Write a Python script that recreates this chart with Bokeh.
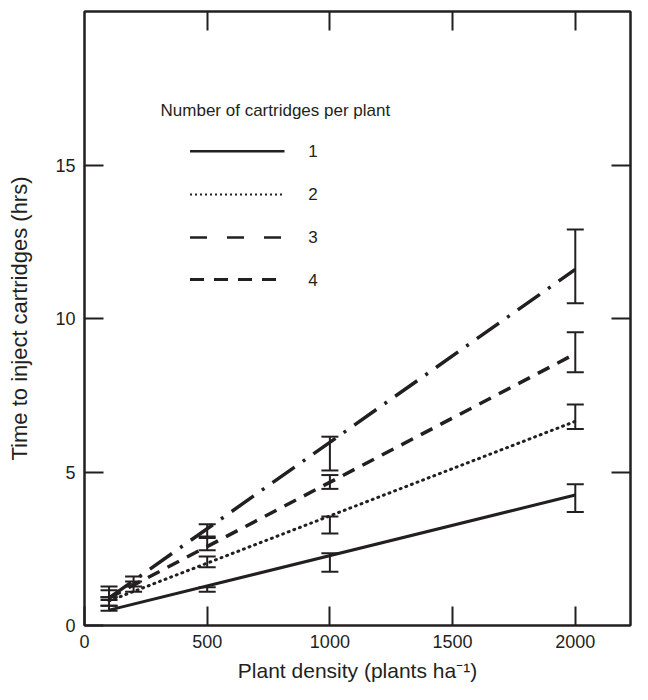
from bokeh.plotting import figure
from bokeh.models import (Range1d, LinearAxis, FixedTicker, Whisker, ColumnDataSource,
                          Label, TeeHead)
from bokeh.embed import file_html
from bokeh.resources import INLINE

# ---------------- data ----------------
# fitted lines (plant density -> hours), endpoints
density = [100, 2000]
line_1 = [0.5, 4.25]
line_2 = [0.8, 6.65]
line_3 = [0.9, 11.6]
line_4 = [0.9, 8.85]

# error bars
eb_x_1 = [100, 500, 1000, 2000]
eb_lo_1 = [0.48, 1.1, 1.75, 3.7]
eb_hi_1 = [0.64, 1.25, 2.35, 4.6]

eb_x_2 = [100, 500, 1000, 2000]
eb_lo_2 = [0.64, 1.9, 3.0, 6.4]
eb_hi_2 = [0.92, 2.25, 3.55, 7.2]

eb_x_4 = [100, 200, 500, 1000, 2000]
eb_lo_4 = [0.83, 1.1, 2.45, 4.45, 8.25]
eb_hi_4 = [1.15, 1.43, 2.9, 4.9, 9.55]

eb_x_3 = [100, 200, 500, 1000, 2000]
eb_lo_3 = [0.92, 1.27, 2.85, 5.05, 10.5]
eb_hi_3 = [1.27, 1.6, 3.3, 6.15, 12.9]

x_ticks = [0, 500, 1000, 1500, 2000]
y_ticks = [0, 5, 10, 15]
legend_title = "Number of cartridges per plant"
legend_labels = ["1", "2", "3", "4"]
x_title = "Plant density (plants ha\u207b\u00b9)"
y_title = "Time to inject cartridges (hrs)"

# ---------------- style ----------------
INK = "#231f20"
FONT = "Liberation Sans"

p = figure(width=632, height=684, x_range=Range1d(0, 2225), y_range=Range1d(0, 20),
           output_backend="svg", toolbar_location=None,
           min_border_left=84, min_border_right=2, min_border_top=11, min_border_bottom=55)
p.grid.visible = False
p.outline_line_color = INK
p.outline_line_width = 2
p.background_fill_color = "white"
p.border_fill_color = "white"


def style_axis(ax, ticks, show_labels=True):
    ax.ticker = FixedTicker(ticks=ticks)
    ax.major_tick_in = 19
    ax.major_tick_out = 0
    ax.minor_tick_line_color = None
    ax.major_tick_line_width = 2
    ax.major_tick_line_color = INK
    ax.axis_line_width = 2
    ax.axis_line_color = INK
    if show_labels:
        ax.major_label_text_font = FONT
        ax.major_label_text_font_size = "18px"
        ax.major_label_text_color = INK
        ax.major_label_standoff = 9
        ax.axis_label_text_font = FONT
        ax.axis_label_text_font_size = "21px"
        ax.axis_label_text_font_style = "normal"
        ax.axis_label_text_color = INK
    else:
        ax.major_label_text_font_size = "0px"
        ax.major_label_text_alpha = 0
        ax.major_label_standoff = 0


style_axis(p.xaxis[0], x_ticks)
style_axis(p.yaxis[0], y_ticks)
p.xaxis[0].axis_label = x_title
p.xaxis[0].axis_label_standoff = 8
p.yaxis[0].axis_label = y_title
p.yaxis[0].axis_label_text_font_size = "22px"
p.yaxis[0].axis_label_standoff = 20
top_ax = LinearAxis()
style_axis(top_ax, x_ticks[1:], show_labels=False)
p.add_layout(top_ax, "above")
right_ax = LinearAxis()
style_axis(right_ax, y_ticks[1:], show_labels=False)
p.add_layout(right_ax, "right")

# ---------------- lines ----------------
p.line(density, line_1, line_color=INK, line_width=3)
p.line(density, line_2, line_color=INK, line_width=3, line_dash="1 5", line_cap="round")
p.line(density, line_4, line_color=INK, line_width=3.5, line_dash="13 9")
p.line(density, line_3, line_color=INK, line_width=3.5, line_dash="27 10 3 10")

# ---------------- error bars ----------------
for xs, lo, hi in [(eb_x_1, eb_lo_1, eb_hi_1), (eb_x_2, eb_lo_2, eb_hi_2),
                   (eb_x_4, eb_lo_4, eb_hi_4), (eb_x_3, eb_lo_3, eb_hi_3)]:
    src = ColumnDataSource(dict(x=xs, lo=lo, hi=hi))
    w = Whisker(source=src, base="x", lower="lo", upper="hi", dimension="height",
                line_color=INK, line_width=2,
                lower_head=TeeHead(size=17, line_color=INK, line_width=2),
                upper_head=TeeHead(size=17, line_color=INK, line_width=2))
    p.add_layout(w)

# ---------------- legend (manual) ----------------
LEG_X = [430, 815]
LEG_Y = [15.45, 14.04, 12.64, 11.27]
LEG_TXT_X = 912
leg_styles = [dict(line_width=2.5),
              dict(line_width=2, line_dash="2 3"),
              dict(line_width=2.5, line_dash="17 20"),
              dict(line_width=3, line_dash="14 10")]
for yy, lab, st in zip(LEG_Y, legend_labels, leg_styles):
    p.line(LEG_X, [yy, yy], line_color=INK, **st)
    p.add_layout(Label(x=LEG_TXT_X, y=yy, text=lab, text_font=FONT, text_font_size="17px",
                       text_color=INK, text_align="left", text_baseline="middle"))
p.add_layout(Label(x=310, y=16.78, text=legend_title, text_font=FONT, text_font_size="17px",
                   text_color=INK, text_align="left", text_baseline="middle"))

open("out.html", "w").write(file_html(p, INLINE))
